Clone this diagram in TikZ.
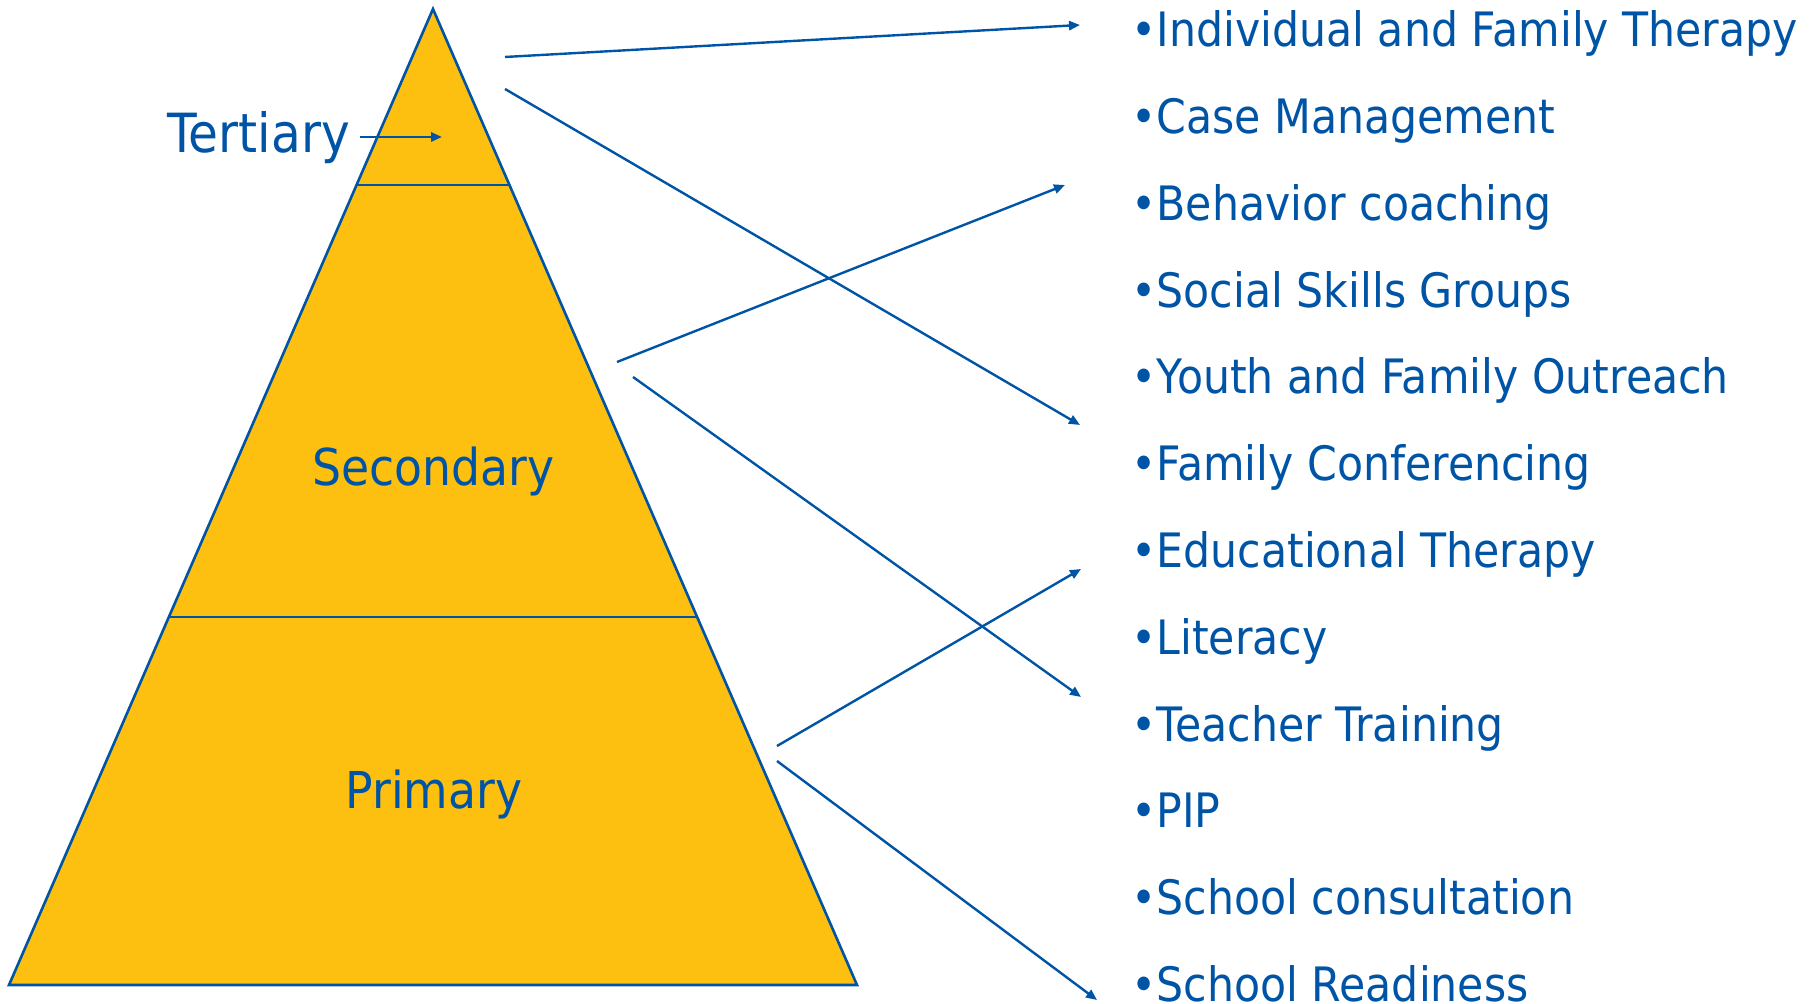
\documentclass[tikz,border=0pt]{standalone}
\usepackage{fontspec}
\setmainfont{DejaVu Sans}[FakeStretch=0.9]
\usetikzlibrary{arrows.meta,calc}
\definecolor{tierblue}{HTML}{0054A6}
\definecolor{tieryellow}{HTML}{FDC010}
\begin{document}
\begin{tikzpicture}[x=0.5pt,y=-0.5pt,
  item/.style={anchor=base west, inner sep=0pt, text=tierblue,
    font=\fontsize{23.7}{28}\selectfont},
  tier/.style={inner sep=0pt, text=tierblue,
    font=\fontsize{25.4}{30}\selectfont},
  edge/.style={draw=tierblue, line width=1.3pt},
  link/.style={draw=tierblue, line width=1.2pt,
    -{Triangle[length=5.5pt,width=4.6pt]}}]
\useasboundingbox (0,0) rectangle (1814,1004);
\clip (0,0) rectangle (1814,1004);

% pyramid with its three tiers
\coordinate (apex) at (433,9);
\coordinate (bl) at (9,985);
\coordinate (br) at (857,985);
\filldraw[fill=tieryellow, edge, line join=miter] (apex) -- (br) -- (bl) -- cycle;
\draw[edge] ($(apex)!0.1803!(bl)$) -- ($(apex)!0.1803!(br)$);
\draw[edge] ($(apex)!0.623!(bl)$) -- ($(apex)!0.623!(br)$);

% tier names
\node[tier, anchor=base west, font=\fontsize{27}{32}\selectfont] (ter) at (167,153) {Tertiary};
\node[tier, anchor=base] (sec) at (433.5,486) {Secondary};
\node[tier, anchor=base] (pri) at (434,808) {Primary};

\coordinate (t0) at (360,137);
\coordinate (t1) at (442,137);
\draw[link] (t0) -- (t1);

% list of services
\foreach \txt [count=\i from 0] in {Individual and Family Therapy,
    Case Management, Behavior coaching, Social Skills Groups,
    Youth and Family Outreach, Family Conferencing, Educational Therapy,
    Literacy, Teacher Training, PIP, School consultation, School Readiness}
  \node[item] (item\i) at (1131,{47+86.75*\i}) {•\txt};

% connectors from each tier to its services
\coordinate (a1s) at (505,57);  \coordinate (a1e) at (1080,25);
\coordinate (a2s) at (505,89);  \coordinate (a2e) at (1080,425);
\coordinate (a3s) at (617,362); \coordinate (a3e) at (1065,185);
\coordinate (a4s) at (633,377); \coordinate (a4e) at (1081,697);
\coordinate (a5s) at (777,746); \coordinate (a5e) at (1081,569);
\coordinate (a6s) at (777,761); \coordinate (a6e) at (1097,1000);
\foreach \k in {1,...,6}
  \draw[link] (a\k s) -- (a\k e);
\end{tikzpicture}
\end{document}
